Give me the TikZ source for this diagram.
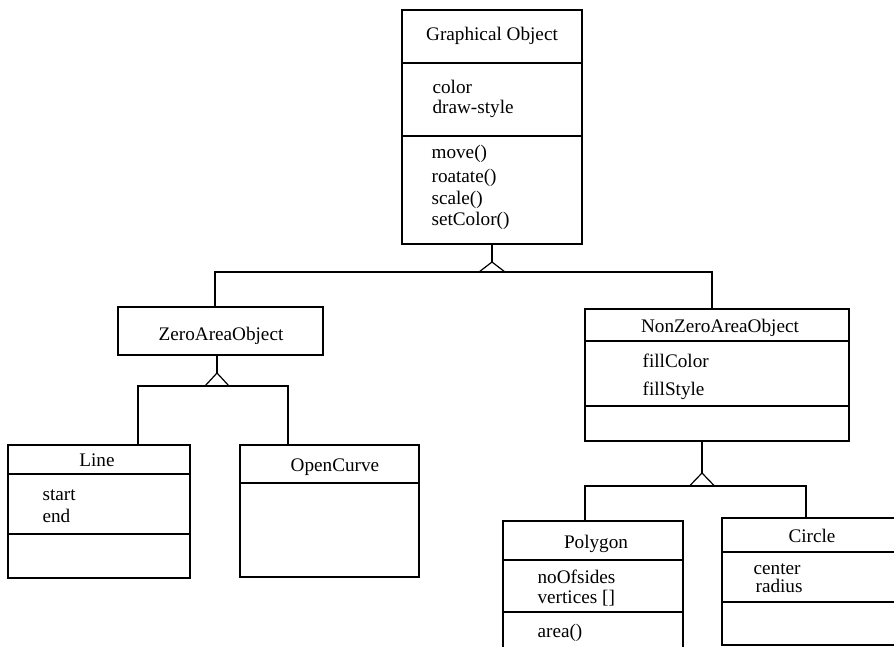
\documentclass[tikz,border=0pt]{standalone}
\usepackage{fontspec}
\setmainfont{Liberation Serif}
\usetikzlibrary{fit}
\begin{document}
\begin{tikzpicture}[x=0.5pt,y=-0.5pt,
  line width=0.6pt,
  classbox/.style={draw,rectangle,inner sep=0pt,line width=0.6pt},
  cname/.style={anchor=base,inner sep=0pt,font=\fontsize{9.6}{11}\selectfont},
  attr/.style={anchor=base west,inner sep=0pt,font=\fontsize{9.6}{11}\selectfont},
  conn/.style={draw,line width=0.6pt},
]
\useasboundingbox (0,0) rectangle (894,647);
\clip (0,0) rectangle (894,647);

% ---------- Graphical Object ----------
\node[classbox,fit={(402,10) (582,244)}] (go) {};
\draw (402,63) -- (582,63);
\draw (402,136) -- (582,136);
\node[cname] (goT) at (492,41) {Graphical Object};
\node[attr] (goA1) at (432,94) {color};
\node[attr] (goA2) at (432,113) {draw-style};
\node[attr] (goM1) at (431,158) {move()};
\node[attr] (goM2) at (431,183) {roatate()};
\node[attr] (goM3) at (431,205) {scale()};
\node[attr] (goM4) at (431,225) {setColor()};

% ---------- ZeroAreaObject ----------
\node[classbox,fit={(118,307) (323,355)}] (zao) {};
\node[cname] (zaoT) at (221,340) {ZeroAreaObject};

% ---------- NonZeroAreaObject ----------
\node[classbox,fit={(585,309) (849,441)}] (nzao) {};
\draw (585,341) -- (849,341);
\draw (585,406) -- (849,406);
\node[cname] (nzaoT) at (720,332) {NonZeroAreaObject};
\node[attr] (nzaoA1) at (642,367) {fillColor};
\node[attr] (nzaoA2) at (642,395) {fillStyle};

% ---------- Line ----------
\node[classbox,fit={(8,445) (190,578)}] (line) {};
\draw (8,474) -- (190,474);
\draw (8,534) -- (190,534);
\node[cname] (lineT) at (97,466) {Line};
\node[attr] (lineA1) at (42,500) {start};
\node[attr] (lineA2) at (42,522) {end};

% ---------- OpenCurve ----------
\node[classbox,fit={(240,445) (419,577)}] (oc) {};
\draw (240,483) -- (419,483);
\node[cname] (ocT) at (335,471) {OpenCurve};

% ---------- Polygon ----------
\node[classbox,fit={(503,521) (683,680)}] (poly) {};
\draw (503,560) -- (683,560);
\draw (503,612) -- (683,612);
\node[cname] (polyT) at (596,548) {Polygon};
\node[attr] (polyA1) at (537,583) {noOfsides};
\node[attr] (polyA2) at (537,603) {vertices []};
\node[attr] (polyM1) at (537,637) {area()};

% ---------- Circle ----------
\node[classbox,fit={(722,518) (902,645)}] (circ) {};
\draw (722,552) -- (902,552);
\draw (722,602) -- (902,602);
\node[cname] (circT) at (812,542) {Circle};
\node[attr] (circA1) at (753,574) {center};
\node[attr] (circA2) at (755,592) {radius};

% ---------- generalization 1 ----------
\coordinate (a1) at (492,262);
\coordinate (j1) at (492,272);
\coordinate (x1) at (215,0);
\coordinate (x2) at (712,0);
\draw[conn] (go.south) -- (a1);
\draw[conn] (a1) -- ++(-13,10) (a1) -- ++(13,10);
\draw[conn] (zao.north -| x1) |- (j1) -| (nzao.north -| x2);

% ---------- generalization 2 ----------
\coordinate (a2) at (217,373);
\coordinate (j2) at (217,386);
\coordinate (x3) at (138,0);
\coordinate (x4) at (288,0);
\draw[conn] (zao.south -| a2) -- (a2);
\draw[conn] (a2) -- ++(-12,13) (a2) -- ++(12,13);
\draw[conn] (line.north -| x3) |- (j2) -| (oc.north -| x4);

% ---------- generalization 3 ----------
\coordinate (a3) at (702,473);
\coordinate (j3) at (702,486);
\coordinate (x5) at (585,0);
\coordinate (x6) at (806,0);
\draw[conn] (nzao.south -| a3) -- (a3);
\draw[conn] (a3) -- ++(-12.5,13) (a3) -- ++(12.5,13);
\draw[conn] (poly.north -| x5) |- (j3) -| (circ.north -| x6);
\end{tikzpicture}
\end{document}
